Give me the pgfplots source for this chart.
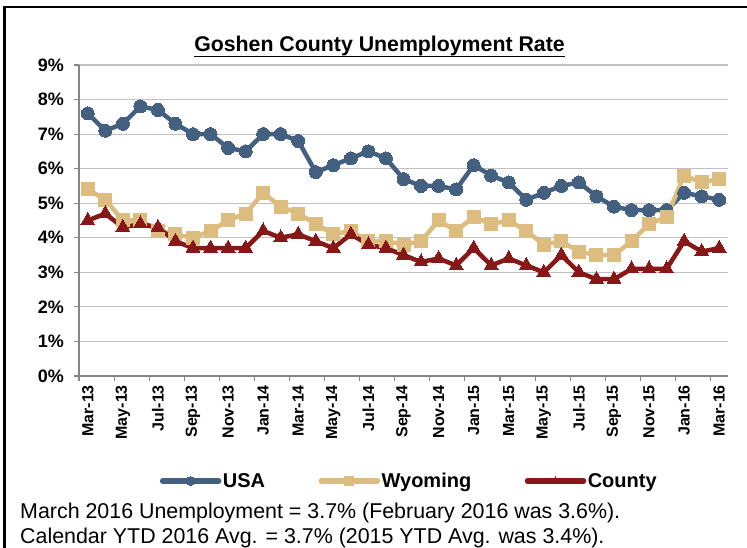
\documentclass[border=0pt]{standalone}
\usepackage{pgfplots}
\pgfplotsset{compat=1.18}
\usepackage{fontspec}
\setmainfont{Liberation Sans}
\definecolor{usa}{RGB}{68,96,128}
\definecolor{wyo}{RGB}{221,188,128}
\definecolor{cty}{RGB}{136,24,24}
\definecolor{gridc}{RGB}{192,192,192}
\definecolor{axc}{RGB}{134,134,134}
\pgfplotstableread{
i usa wyo cty
0 7.6 5.4 4.5
1 7.1 5.1 4.7
2 7.3 4.5 4.3
3 7.8 4.5 4.4
4 7.7 4.2 4.3
5 7.3 4.1 3.9
6 7.0 4.0 3.7
7 7.0 4.2 3.7
8 6.6 4.5 3.7
9 6.5 4.7 3.7
10 7.0 5.3 4.2
11 7.0 4.9 4.0
12 6.8 4.7 4.1
13 5.9 4.4 3.9
14 6.1 4.1 3.7
15 6.3 4.2 4.1
16 6.5 3.9 3.8
17 6.3 3.9 3.7
18 5.7 3.8 3.5
19 5.5 3.9 3.3
20 5.5 4.5 3.4
21 5.4 4.2 3.2
22 6.1 4.6 3.7
23 5.8 4.4 3.2
24 5.6 4.5 3.4
25 5.1 4.2 3.2
26 5.3 3.8 3.0
27 5.5 3.9 3.5
28 5.6 3.6 3.0
29 5.2 3.5 2.8
30 4.9 3.5 2.8
31 4.8 3.9 3.1
32 4.8 4.4 3.1
33 4.8 4.6 3.1
34 5.3 5.8 3.9
35 5.2 5.6 3.6
36 5.1 5.7 3.7
}\datatable
\begin{document}
\begin{tikzpicture}[x=1pt,y=1pt]
\useasboundingbox (0,0) rectangle (747,548);
\fill[white] (0,0) rectangle (747,548);
\draw[black, line width=2.5pt] (4.5,0) -- (4.5,541) -- (747,541);
\node[anchor=base, inner sep=0pt, font=\bfseries\fontsize{21.3}{25}\selectfont] (t) at (379.5,496) {Goshen County Unemployment Rate};
\draw[line width=1.8pt] ([yshift=-4.5pt]t.base west) -- ([yshift=-4.5pt]t.base east);
\begin{axis}[
  at={(79pt,172pt)}, anchor=south west,
  scale only axis, width=649pt, height=311pt,
  xmin=-0.5, xmax=36.5, ymin=0, ymax=9,
  axis x line*=bottom, axis y line*=left,
  axis line style={axc, line width=1.3pt},
  ytick={0,...,9},
  yticklabels={0\%,1\%,2\%,3\%,4\%,5\%,6\%,7\%,8\%,9\%},
  ymajorgrids, grid style={gridc, line width=1.1pt},
  xtick={0,2,...,36},
  xticklabels={Mar-13,May-13,Jul-13,Sep-13,Nov-13,Jan-14,Mar-14,May-14,Jul-14,Sep-14,Nov-14,Jan-15,Mar-15,May-15,Jul-15,Sep-15,Nov-15,Jan-16,Mar-16},
  major x tick style={draw=none},
  minor xtick={-0.5,1.5,...,35.5},
  tick align=outside,
  major tick length=5pt, minor tick length=5pt,
  minor x tick style={axc, line width=1.1pt},
  major y tick style={axc, line width=1.1pt},
  xticklabel style={rotate=90, anchor=east, inner sep=4pt, font=\bfseries\fontsize{16}{18}\selectfont},
  yticklabel style={inner sep=2pt, xshift=-8pt, font=\bfseries\fontsize{18}{20}\selectfont},
  legend style={at={(0.5085,-0.3376)}, anchor=center, draw=none, fill=none,
    legend columns=3, font=\bfseries\fontsize{20}{24}\selectfont,
    nodes={inner sep=1.5pt},
    /tikz/every even column/.append style={column sep=52pt}},
  legend image code/.code={
    \draw[#1, mark=none, line width=5.5pt, line cap=round] (0pt,0pt) -- (56pt,0pt);
    \draw[#1, mark size=4.5pt] plot coordinates {(28pt,0pt)};
  },
  clip=false,
]
\addplot[usa, line width=4.5pt, mark=*, mark size=6.5pt, mark options={solid, fill=usa, draw=usa, line width=0pt}] table[x=i, y=usa] {\datatable};
\addlegendentry{USA}
\addplot[wyo, line width=4.5pt, mark=square*, mark size=6.5pt, mark options={solid, fill=wyo, draw=wyo, line width=0pt}] table[x=i, y=wyo] {\datatable};
\addlegendentry{Wyoming}
\addplot[cty, line width=4.5pt, mark=triangle*, mark size=8pt, mark options={solid, fill=cty, draw=cty, line width=0pt}] table[x=i, y=cty] {\datatable};
\addlegendentry{County}
\end{axis}
\node[anchor=base west, inner sep=0pt, font=\fontsize{21.4}{25}\selectfont] at (20,29) {March 2016 Unemployment = 3.7\% (February 2016 was 3.6\%).};
\node[anchor=base west, inner sep=0pt, font=\fontsize{21.4}{25}\selectfont] at (20,4) {Calendar YTD 2016 Avg. = 3.7\% (2015 YTD Avg. was 3.4\%).};
\end{tikzpicture}
\end{document}
